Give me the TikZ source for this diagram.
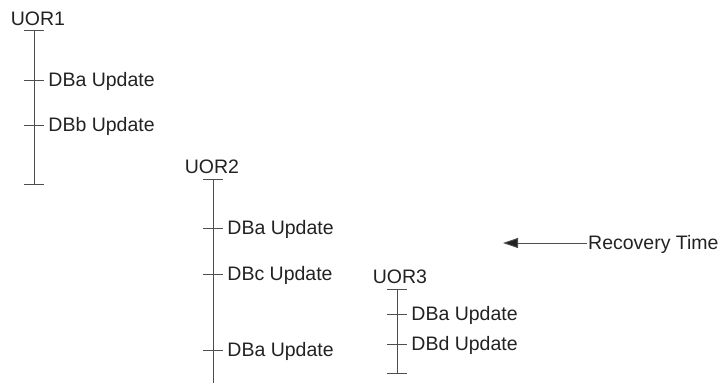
\documentclass[tikz,border=0pt]{standalone}
\usepackage{fontspec}
\setmainfont{Liberation Sans}
\usetikzlibrary{arrows.meta,positioning}
\definecolor{Ink}{HTML}{222222}
\definecolor{Rule}{HTML}{4E4E4E}
\tikzset{
  uorlabel/.style={anchor=base,inner sep=0pt,text=Ink,font=\fontsize{19.5}{22}\selectfont},
  updlabel/.style={anchor=base west,inner sep=0pt,text=Ink,font=\fontsize{19.5}{22}\selectfont,xshift=4pt,yshift=-6.5pt},
  timeline/.style={draw=Rule,line width=0.9pt},
  tickmark/.style={draw=Rule,line width=0.9pt},
  arrow/.style={-{Triangle[length=15pt,width=10pt,fill=Ink]},draw=Rule,line width=0.9pt}
}
\begin{document}
\begin{tikzpicture}[x=1pt,y=-1pt]
\useasboundingbox (0,0) rectangle (721,383);
% UOR1
\coordinate (a0) at (34,30);
\coordinate (a1) at (34,80);
\coordinate (a2) at (34,125);
\coordinate (a3) at (34,184);
\node[uorlabel] (uor1) at ([shift={(4,-5)}]a0) {UOR1};
\draw[timeline] (a0) -- (a3);
\draw[tickmark] (a0) +(-10,0) -- +(10,0);
\draw[tickmark] (a1) +(-10,0) -- +(10,0) node[updlabel] (a1txt) {DBa Update};
\draw[tickmark] (a2) +(-10,0) -- +(10,0) node[updlabel] (a2txt) {DBb Update};
\draw[tickmark] (a3) +(-10,0) -- +(10,0);
% UOR2
\coordinate (b0) at (213,179);
\coordinate (b1) at (213,228);
\coordinate (b2) at (213,274);
\coordinate (b3) at (213,350);
\coordinate (b4) at (213,383);
\node[uorlabel] (uor2) at ([shift={(-1,-6)}]b0) {UOR2};
\draw[timeline] (b0) -- (b4);
\draw[tickmark] (b0) +(-10,0) -- +(10,0);
\draw[tickmark] (b1) +(-10,0) -- +(10,0) node[updlabel] (b1txt) {DBa Update};
\draw[tickmark] (b2) +(-10,0) -- +(10,0) node[updlabel] (b2txt) {DBc Update};
\draw[tickmark] (b3) +(-10,0) -- +(10,0) node[updlabel] (b3txt) {DBa Update};
% UOR3
\coordinate (c0) at (397,289);
\coordinate (c1) at (397,314);
\coordinate (c2) at (397,344);
\coordinate (c3) at (397,373);
\node[uorlabel] (uor3) at ([shift={(3,-6)}]c0) {UOR3};
\draw[timeline] (c0) -- (c3);
\draw[tickmark] (c0) +(-10,0) -- +(10,0);
\draw[tickmark] (c1) +(-10,0) -- +(10,0) node[updlabel] (c1txt) {DBa Update};
\draw[tickmark] (c2) +(-10,0) -- +(10,0) node[updlabel] (c2txt) {DBd Update};
\draw[tickmark] (c3) +(-10,0) -- +(10,0);
% recovery time
\coordinate (rtail) at (587,243);
\coordinate (rhead) at (503,243);
\node[updlabel,xshift=-3pt] (rec) at (rtail) {Recovery Time};
\draw[arrow] (rtail) -- (rhead);
\end{tikzpicture}
\end{document}
